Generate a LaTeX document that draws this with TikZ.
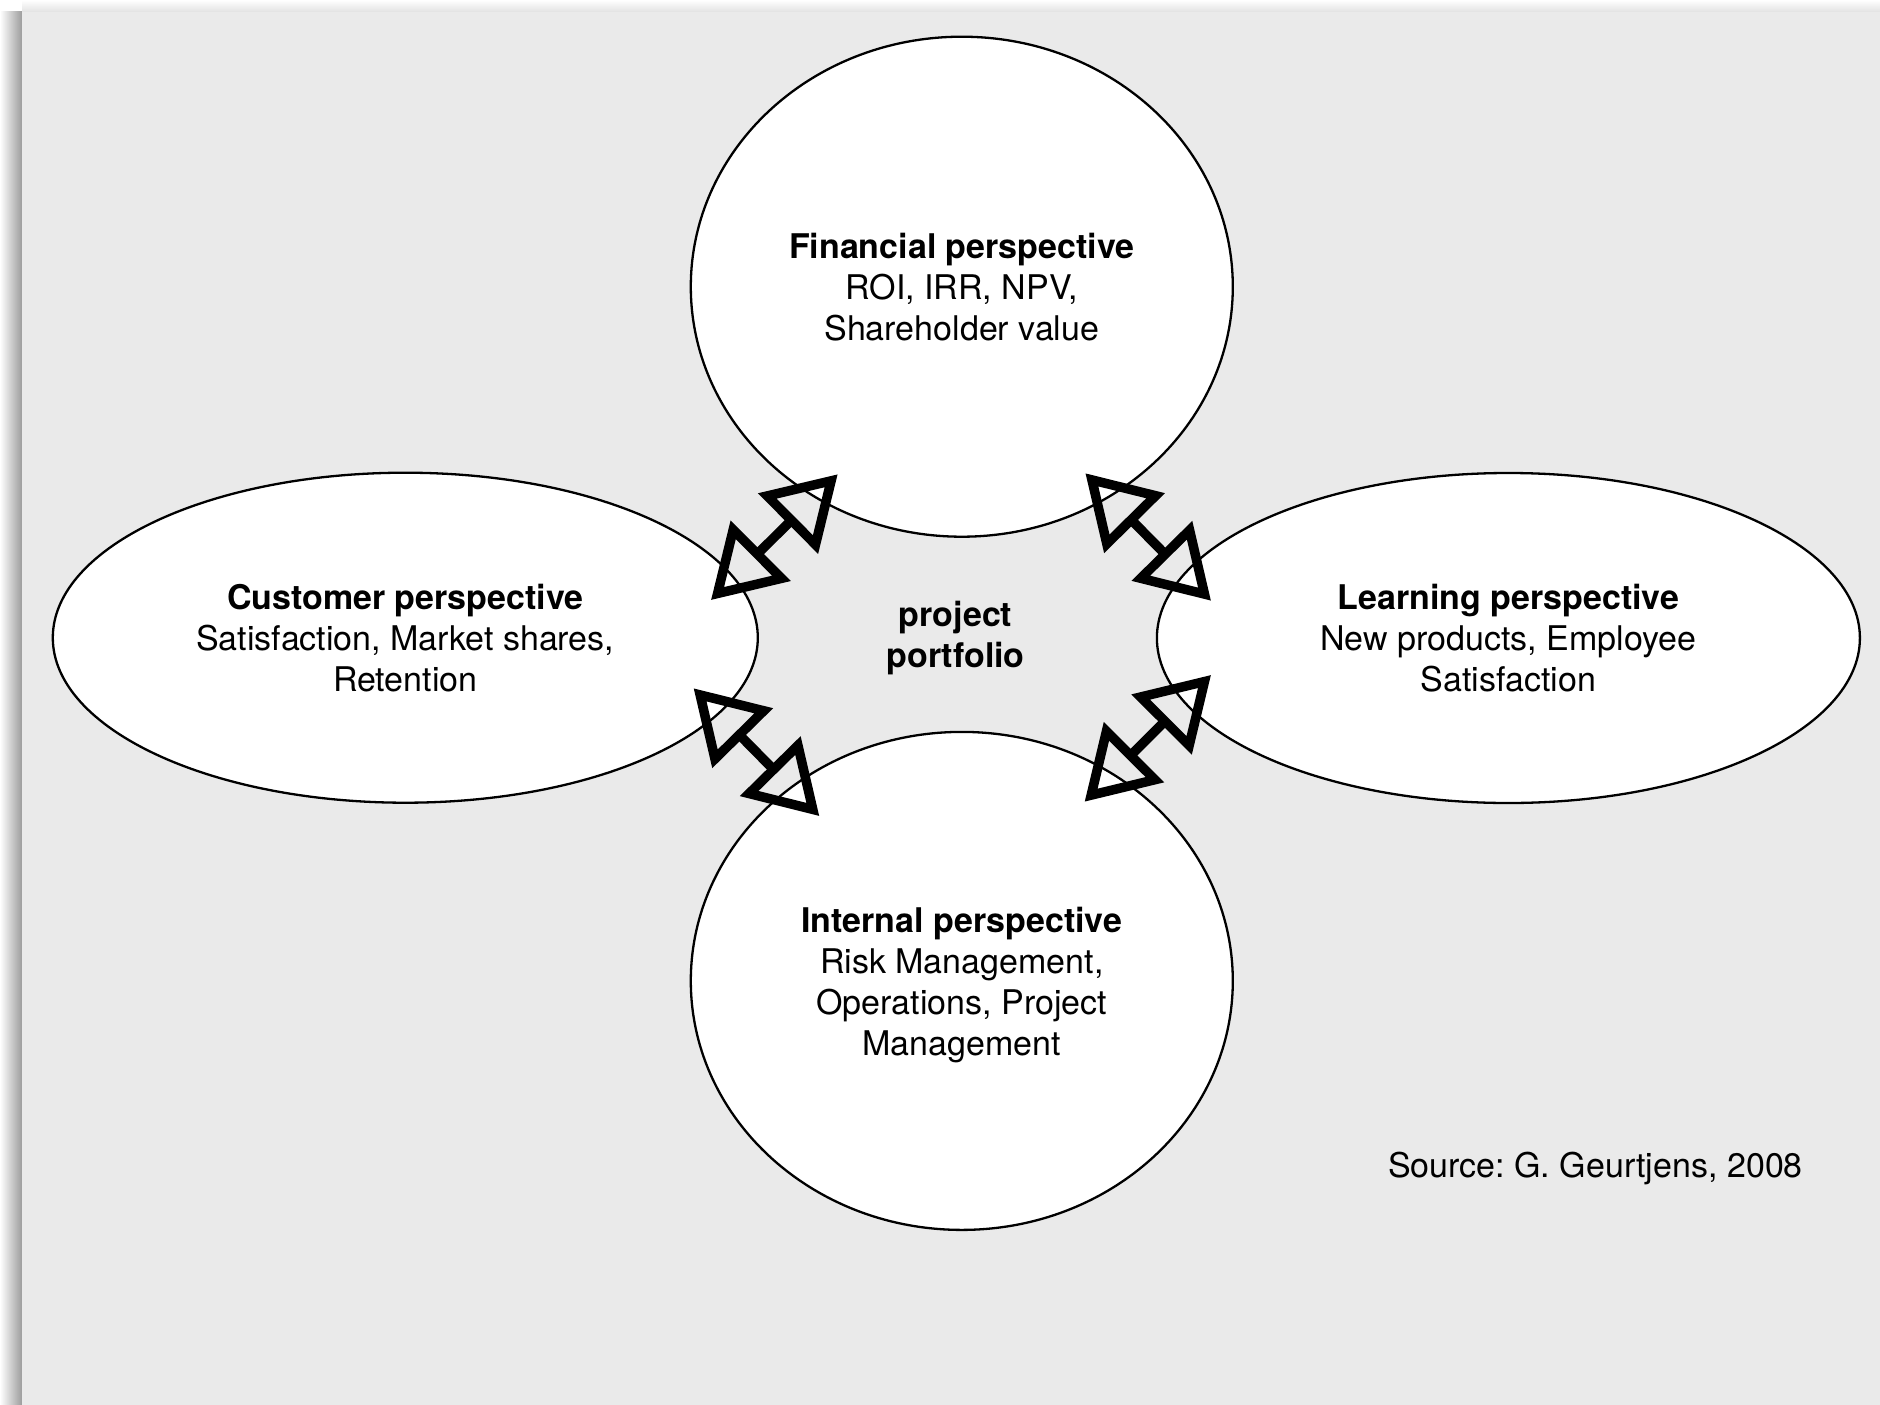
\documentclass[tikz,border=0pt]{standalone}
\usepackage{fontspec}
\setmainfont{TeX Gyre Heros}
\usetikzlibrary{arrows.meta,shapes.geometric}
\definecolor{bg}{HTML}{EAEAEA}
\definecolor{shadowc}{HTML}{9C9C9C}
\definecolor{topshade}{HTML}{E2E2E2}
\frenchspacing
\begin{document}
\begin{tikzpicture}[x=1pt,y=-1pt,
  persp/.style={ellipse, draw=black, line width=2.3pt, fill=white, inner sep=0pt,
    align=center, font=\fontsize{34}{41}\selectfont},
  lbl/.style={inner sep=0pt, align=center, font=\fontsize{34}{41}\selectfont},
  dbl/.style={line width=9.5pt,
    {Triangle[open,length=70pt,width=83pt]}-{Triangle[open,length=70pt,width=83pt]}}]
\useasboundingbox (0,0) rectangle (1880,1405);
\fill[white] (0,0) rectangle (1880,1405);
\shade[left color=white, right color=shadowc] (0,12) rectangle (22,1405);
\shade[top color=white, bottom color=topshade] (22,0) rectangle (1880,12);
\fill[bg] (22,12) rectangle (1880,1405);

\node[persp, minimum width=542pt, minimum height=500pt] (fin) at (961.8,286.7)
  {\textbf{Financial perspective}\\ROI, IRR, NPV,\\Shareholder value};
\node[persp, minimum width=542pt, minimum height=498pt] (int) at (961.8,980.9) {};
\node[lbl] (intt) at (961.8,985.5)
  {\textbf{Internal perspective}\\Risk Management,\\Operations, Project\\Management};
\node[persp, minimum width=705pt, minimum height=330pt] (cus) at (405.3,637.7)
  {\textbf{Customer perspective}\\Satisfaction, Market shares,\\Retention};
\node[persp, minimum width=703pt, minimum height=330pt] (lea) at (1508.4,638)
  {\textbf{Learning perspective}\\New products, Employee\\Satisfaction};

\node[lbl] (pp) at (955.6,638.5) {\textbf{project}\\\textbf{portfolio}};
\node[lbl, anchor=base east] (src) at (1803,1177) {Source: G. Geurtjens, 2008};

\coordinate (tl1) at (711,600);
\coordinate (tl2) at (837.7,474.3);
\coordinate (tr1) at (1085.4,473.3);
\coordinate (tr2) at (1211,600.7);
\coordinate (bl1) at (693.6,688.3);
\coordinate (bl2) at (819.3,816);
\coordinate (br1) at (1211,675);
\coordinate (br2) at (1084.6,801.7);
\draw[dbl] (tl1) -- (tl2);
\draw[dbl] (tr1) -- (tr2);
\draw[dbl] (bl1) -- (bl2);
\draw[dbl] (br1) -- (br2);
\end{tikzpicture}
\end{document}
